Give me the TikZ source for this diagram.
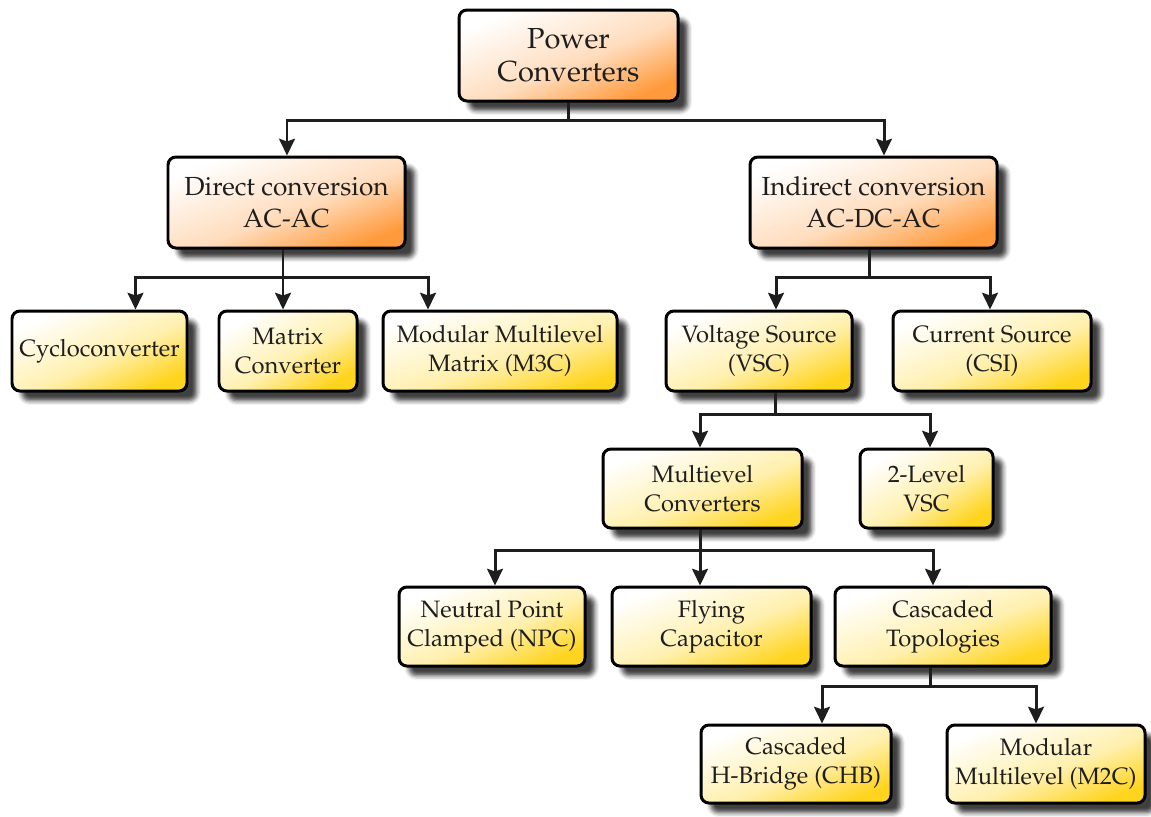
\documentclass[tikz,border=0pt]{standalone}
\usepackage[T1]{fontenc}
\usepackage{mathpazo}
\usetikzlibrary{arrows.meta,shadows.blur}
\definecolor{ink}{HTML}{1E1E1E}
\definecolor{orangeend}{HTML}{FF9A3C}
\definecolor{orangemid}{HTML}{FFDCBC}
\definecolor{goldend}{HTML}{FFD41E}
\definecolor{goldmid}{HTML}{FFF0AE}
% diagonal fills: white in the upper left, full colour in the lower right corner
\pgfdeclareverticalshading{peachfill}{100bp}{color(0bp)=(orangeend); color(25bp)=(orangeend);
  color(46bp)=(orangemid); color(75bp)=(white); color(100bp)=(white)}
\pgfdeclareverticalshading{goldfill}{100bp}{color(0bp)=(goldend); color(25bp)=(goldend);
  color(46bp)=(goldmid); color(75bp)=(white); color(100bp)=(white)}
\tikzset{
  box/.style={draw=black, line width=1.7pt, rounded corners=4.5pt, inner sep=0pt,
    align=center, text=ink,
    blur shadow={shadow xshift=5.5pt, shadow yshift=-5.5pt, shadow blur radius=2.5pt, shadow opacity=75}},
  sz/.style n args={3}{minimum width={#1*0.02cm}, minimum height={#2*0.02cm}, shading angle=#3},
  topbox/.style={box, shading=peachfill, font=\fontsize{14.9}{18}\selectfont},
  leafbox/.style={box, shading=goldfill, font=\fontsize{13.5}{16.4}\selectfont},
  link/.style={line width=1.7pt, draw=ink},
  arr/.style={link, -{Stealth[width=9pt, length=9.5pt, inset=1.5pt]}}
}
\begin{document}
\begin{tikzpicture}[x=0.02cm, y=-0.02cm]
\useasboundingbox (0,0) rectangle (1151,816);

% level 0
\node[topbox, sz={219}{91}{22.6}, font=\fontsize{16.5}{18.7}\selectfont] (pc) at (568.5,55.5) {Power\\Converters};
% level 1
\node[topbox, sz={237}{91}{21}] (dc) at (286.5,202.5) {Direct conversion\\AC-AC};
\node[topbox, sz={247}{91}{20.2}] (ic) at (873.5,202.5) {Indirect conversion\\AC-DC-AC};
% level 2
\node[leafbox, sz={175}{80}{24.6}] (cyc) at (99.5,351) {Cycloconverter};
\node[leafbox, sz={138}{80}{30.1}] (mc) at (288,351) {Matrix\\Converter};
\node[leafbox, sz={234}{80}{18.9}] (m3c) at (500,351) {Modular Multilevel\\Matrix (M3C)};
\node[leafbox, sz={186}{80}{23.3}] (vsc) at (759,351) {Voltage Source\\(VSC)};
\node[leafbox, sz={198}{80}{22}] (csi) at (992,351) {Current Source\\(CSI)};
% level 3
\node[leafbox, sz={199}{79}{21.7}] (mlc) at (702.5,488.5) {Multievel\\Converters};
\node[leafbox, sz={133}{79}{30.7}] (tlv) at (926.5,488.5) {2-Level\\VSC};
% level 4
\node[leafbox, sz={186}{79}{23}] (npc) at (492,626.5) {Neutral Point\\Clamped (NPC)};
\node[leafbox, sz={199}{79}{21.7}] (fc) at (711.5,626.5) {Flying\\Capacitor};
\node[leafbox, sz={216}{79}{20.1}] (ct) at (943,626.5) {Cascaded\\Topologies};
% level 5
\node[leafbox, sz={190}{78}{22.3}] (chb) at (796,764) {Cascaded\\H-Bridge (CHB)};
\node[leafbox, sz={198}{78}{21.5}] (m2c) at (1046,764) {Modular\\Multilevel (M2C)};

% branch points of the tree
\coordinate (j0) at (568,120);
\coordinate (j1) at (283,277);
\coordinate (j2) at (869,277);
\coordinate (j3) at (775,414);
\coordinate (j4) at (700,550);
\coordinate (j5) at (930,686);

\draw[link] (pc.south -| j0) -- (j0);
\draw[arr] (j0) -| ([xshift=0.01cm]dc.north);
\draw[arr] (j0) -| ([xshift=0.21cm]ic.north);

\draw[link] (dc.south -| j1) -- (j1);
\draw[arr] (j1) -| ([xshift=0.72cm]cyc.north);
\draw[arr] (j1) -- (mc.north -| j1);
\draw[arr] (j1) -| ([xshift=-1.44cm]m3c.north);

\draw[link] (ic.south -| j2) -- (j2);
\draw[arr] (j2) -| ([xshift=0.34cm]vsc.north);
\draw[arr] (j2) -| ([xshift=-0.04cm]csi.north);

\draw[link] (vsc.south -| j3) -- (j3);
\draw[arr] (j3) -| ([xshift=-0.05cm]mlc.north);
\draw[arr] (j3) -| ([xshift=0.07cm]tlv.north);

\draw[link] (mlc.south -| j4) -- (j4);
\draw[arr] (j4) -| ([xshift=0.06cm]npc.north);
\draw[arr] (j4) -- (fc.north -| j4);
\draw[arr] (j4) -| ([xshift=-0.2cm]ct.north);

\draw[link] (ct.south -| j5) -- (j5);
\draw[arr] (j5) -| ([xshift=0.52cm]chb.north);
\draw[arr] (j5) -| ([xshift=-0.2cm]m2c.north);
\end{tikzpicture}
\end{document}
